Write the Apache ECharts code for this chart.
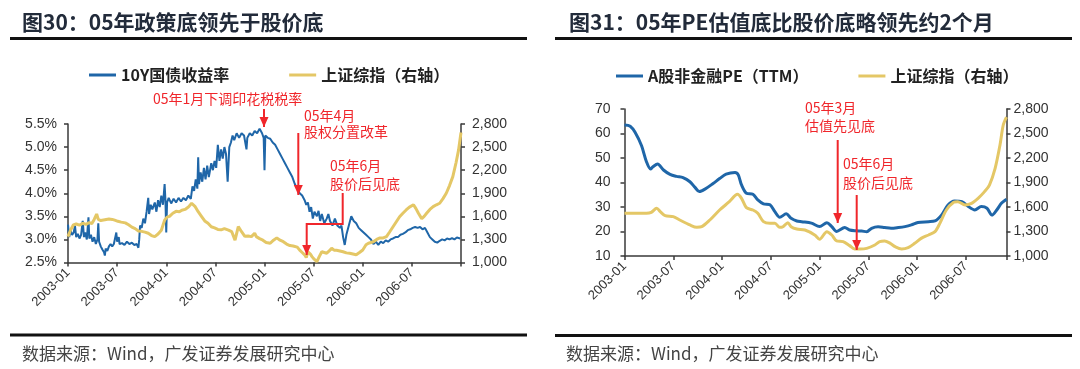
<!DOCTYPE html>
<html><head><meta charset="utf-8">
<script src="https://cdn.jsdelivr.net/npm/echarts@6/dist/echarts.min.js"></script>
<style>html,body{margin:0;padding:0;background:#fff}#c{width:1080px;height:369px}</style>
</head><body><div id="c"></div>
<script>
// x positions are months since 2003-01
const xTickLabels = ['2003-01','2003-07','2004-01','2004-07','2005-01','2005-07','2006-01','2006-07'];

// Left chart: 10Y government bond yield (%)
const bondYield = [[0,3.32],[0.15,3.05],[0.3,3.2],[0.5,3.1],[0.7,3.15],[0.85,3.3],[1.0,3.05],[1.2,3.12],[1.4,3.02],[1.6,3.1],[1.8,3.4],[1.95,3.05],[2.1,3.15],[2.3,3.0],[2.5,3.48],[2.6,3.02],[2.8,3.1],[3.0,2.95],[3.2,3.05],[3.4,2.9],[3.6,3.0],[3.7,3.35],[3.8,2.95],[4.0,2.85],[4.2,2.78],[4.4,2.72],[4.5,2.65],[4.6,2.8],[4.8,2.75],[5.0,2.85],[5.2,2.9],[5.4,2.85],[5.6,2.9],[5.8,2.88],[5.9,3.15],[6.0,2.95],[6.2,3.05],[6.3,2.9],[6.6,2.92],[6.9,2.88],[7.2,2.95],[7.5,2.9],[7.8,2.93],[8.1,2.88],[8.4,2.9],[8.6,2.82],[8.7,3.0],[8.8,3.3],[9.0,3.25],[9.2,3.45],[9.4,3.35],[9.6,3.6],[9.8,3.9],[9.9,3.55],[10.1,3.75],[10.3,3.65],[10.6,3.8],[10.8,3.6],[11.0,3.85],[11.2,3.7],[11.4,3.95],[11.6,3.75],[11.8,4.2],[11.9,3.85],[12.0,3.15],[12.1,3.8],[12.3,3.9],[12.6,3.78],[12.9,3.88],[13.2,3.8],[13.5,3.9],[13.8,3.82],[14.1,3.9],[14.4,3.85],[14.7,3.95],[15.0,3.88],[15.2,4.15],[15.4,4.05],[15.6,4.3],[15.8,4.1],[15.9,4.78],[16.0,4.2],[16.2,4.45],[16.4,4.25],[16.6,4.55],[16.8,4.3],[17.0,4.6],[17.2,4.35],[17.5,4.65],[17.7,4.5],[17.9,4.7],[18.1,4.55],[18.3,5.05],[18.5,4.7],[18.7,4.95],[18.9,4.75],[19.1,5.0],[19.3,4.85],[19.5,4.25],[19.7,5.0],[19.9,5.1],[20.1,5.25],[20.3,5.15],[20.6,5.3],[20.9,5.2],[21.2,5.3],[21.5,5.25],[21.8,4.95],[21.9,5.2],[22.2,5.3],[22.5,5.25],[22.8,5.35],[23.1,5.3],[23.4,5.4],[23.7,5.3],[23.9,5.2],[24.0,4.5],[24.1,5.25],[24.4,5.2],[24.7,5.18],[25.0,5.1],[25.3,5.05],[25.6,4.95],[25.9,4.85],[26.2,4.75],[26.5,4.65],[26.8,4.55],[27.1,4.45],[27.4,4.35],[27.7,4.2],[28.0,4.1],[28.3,4.0],[28.6,3.95],[28.9,3.85],[29.1,3.75],[29.3,3.8],[29.5,3.6],[29.7,3.7],[29.9,3.45],[30.1,3.6],[30.4,3.5],[30.6,3.62],[30.8,3.4],[31.0,3.55],[31.3,3.35],[31.6,3.45],[31.8,3.55],[32.0,3.4],[32.3,3.3],[32.6,3.45],[32.9,3.3],[33.2,3.25],[33.4,3.3],[33.6,3.05],[33.8,2.88],[34.0,3.1],[34.3,3.3],[34.6,3.5],[34.9,3.4],[35.2,3.35],[35.5,3.25],[35.8,3.2],[36.1,3.15],[36.4,3.1],[36.7,3.05],[37.0,3.0],[37.3,2.9],[37.6,2.95],[37.9,2.88],[38.2,2.95],[38.5,2.92],[38.8,2.98],[39.1,2.95],[39.4,3.0],[39.7,3.02],[40.0,3.05],[40.3,3.05],[40.6,3.1],[40.9,3.12],[41.2,3.15],[41.5,3.2],[41.8,3.22],[42.1,3.25],[42.4,3.27],[42.7,3.25],[43.0,3.27],[43.3,3.22],[43.6,3.25],[43.9,3.15],[44.2,3.05],[44.5,3.0],[44.8,2.95],[45.1,2.93],[45.4,2.97],[45.7,3.0],[46.0,2.98],[46.3,3.02],[46.6,3.0],[46.9,3.03],[47.2,3.0],[47.5,3.04],[47.9,3.02]];

// Left chart: Shanghai Composite (right axis)
const sseDaily = [[0,1336],[0.3,1420],[0.65,1487],[1.0,1500],[1.4,1485],[1.8,1510],[2.2,1495],[2.6,1520],[2.9,1505],[3.2,1560],[3.5,1630],[3.7,1560],[4.0,1545],[4.5,1555],[5.0,1565],[5.4,1560],[5.7,1550],[6.1,1535],[6.5,1525],[7.0,1515],[7.4,1490],[7.8,1460],[8.2,1440],[8.6,1410],[9.0,1405],[9.4,1395],[9.8,1380],[10.2,1350],[10.6,1336],[11.0,1370],[11.4,1420],[11.8,1550],[12.1,1590],[12.4,1600],[12.8,1640],[13.2,1665],[13.6,1660],[13.9,1680],[14.3,1690],[14.7,1720],[15.1,1770],[15.5,1730],[15.9,1660],[16.3,1600],[16.7,1540],[17.1,1510],[17.5,1465],[17.9,1450],[18.3,1430],[18.7,1425],[19.1,1440],[19.6,1420],[20.0,1400],[20.4,1290],[20.8,1466],[21.2,1400],[21.6,1340],[22.0,1345],[22.4,1336],[22.8,1380],[23.0,1336],[23.4,1310],[23.8,1290],[24.2,1260],[24.7,1250],[25.1,1290],[25.5,1320],[25.9,1290],[26.3,1270],[26.7,1240],[27.1,1220],[27.5,1215],[28.0,1200],[28.3,1160],[28.6,1130],[28.9,1100],[29.1,1065],[29.3,1140],[29.6,1110],[29.8,1076],[30.0,1050],[30.2,1032],[30.4,1010],[30.7,1080],[31.0,1140],[31.3,1130],[31.6,1120],[31.9,1150],[32.2,1185],[32.5,1160],[32.8,1160],[33.2,1150],[33.6,1140],[34.0,1125],[34.4,1120],[34.8,1110],[35.2,1100],[35.6,1130],[36.0,1163],[36.4,1230],[36.7,1250],[37.0,1260],[37.3,1270],[37.7,1300],[38.1,1320],[38.5,1320],[38.9,1336],[39.3,1400],[39.7,1465],[40.1,1530],[40.5,1595],[40.9,1640],[41.3,1683],[41.7,1720],[42.2,1750],[42.5,1700],[42.8,1640],[43.2,1570],[43.5,1600],[43.8,1640],[44.2,1690],[44.6,1726],[45.0,1750],[45.4,1770],[45.8,1830],[46.2,1900],[46.6,2000],[47.0,2116],[47.4,2300],[47.7,2460],[48.0,2690]];

// Right chart: A-share non-financial PE (TTM)
const peTTM = [[0,63.5],[0.7,63],[1.3,60.5],[2.1,55],[2.7,48.5],[3.2,45.5],[3.5,46.4],[4.07,47.6],[4.8,45.1],[5.6,43.3],[6.4,42.5],[7.2,42],[8.05,40.3],[8.7,37.9],[9.2,36.3],[9.9,37.3],[10.9,39.6],[11.7,41.6],[12.5,43.4],[13.6,44.1],[14.0,43.1],[14.4,39],[15.0,35.6],[15.8,35.2],[16.4,32.9],[17.1,31.3],[17.9,30.9],[18.5,28.1],[19.1,25.8],[19.9,27.2],[20.5,25.4],[21.2,24.3],[21.8,24.0],[23.0,23.4],[24.0,22.0],[24.9,23.6],[25.5,22.0],[26.1,20.0],[27.1,21.6],[27.7,20.6],[28.5,20.3],[29.2,20.2],[29.8,19.9],[30.4,21.3],[31.2,21.9],[32.0,21.6],[32.8,21.3],[33.7,21.6],[34.5,22.0],[35.3,22.7],[36.1,23.7],[37.4,24.0],[38.2,24.3],[39.0,26.7],[39.8,30.8],[40.6,32.5],[41.5,32.2],[42.3,30.2],[43.1,28.8],[43.9,30.2],[44.6,29.5],[45.2,26.7],[45.8,28.8],[46.4,31.6],[47.0,33.2]];

// Right chart: Shanghai Composite (right axis)
const sseMonthly = [[0,1523],[1.5,1523],[2.7,1523],[3.3,1535],[3.96,1584],[4.4,1543],[5.0,1494],[6.0,1482],[6.8,1441],[8.05,1380],[8.9,1351],[9.5,1359],[10.5,1441],[11.7,1563],[12.9,1665],[13.9,1755],[14.4,1706],[15.0,1592],[15.8,1563],[16.4,1523],[17.1,1420],[17.9,1400],[18.5,1400],[19.1,1351],[19.5,1359],[20.1,1408],[20.5,1359],[21.2,1331],[22.2,1318],[23.4,1257],[24.0,1204],[24.9,1298],[25.5,1257],[26.1,1184],[26.9,1176],[27.7,1127],[28.3,1086],[29.0,1086],[29.8,1094],[30.8,1135],[31.4,1176],[32.0,1184],[32.7,1155],[33.3,1114],[34.1,1086],[34.9,1102],[35.7,1155],[36.5,1216],[37.4,1257],[38.2,1298],[38.8,1400],[39.6,1563],[40.5,1657],[41.0,1665],[41.9,1625],[42.7,1645],[43.5,1706],[44.3,1788],[44.9,1869],[45.6,2073],[46.2,2359],[46.6,2604],[47.0,2700]];

const FONT = "'Liberation Sans', Arial, sans-serif";
const CJK = "'Noto Sans CJK SC', sans-serif";
const BLUE = '#1f66a8', GOLD = '#e4c766', RED = '#f0262b', AXIS = '#3a3a3a';

function xAxis(gridIndex, max) {
  return { type:'value', gridIndex, min:0, max, interval:6,
    axisLine:{show:true, onZero:false, lineStyle:{color:AXIS, width:1.5}},
    axisTick:{show:true, length:4, lineStyle:{color:AXIS, width:1.5}},
    splitLine:{show:false},
    axisLabel:{rotate:45, margin:8, fontSize:13, color:'#333', fontFamily:FONT,
      formatter: v => (v % 6 === 0 && v / 6 < xTickLabels.length) ? xTickLabels[v / 6] : ''}
  };
}
function yAxis(gridIndex, position, min, max, interval, fmt, margin) {
  return { type:'value', gridIndex, position, min, max, interval,
    axisLine:{show:true, onZero:false, lineStyle:{color:AXIS, width:1.5}},
    axisTick:{show:true, length:4, lineStyle:{color:AXIS, width:1.5}},
    splitLine:{show:false},
    axisLabel:{margin, fontSize:14, color:'#333', fontFamily:FONT, formatter: fmt}};
}
const pct = v => v.toFixed(1) + '%';
const thou = v => v.toLocaleString('en-US');

function arrow(points, color) {
  const tip = points[points.length - 1];
  const els = [{type:'polyline', shape:{points}, style:{stroke:color, lineWidth:2, fill:null}, z:100},
    {type:'polygon', shape:{points:[[tip[0]-4.5, tip[1]-10],[tip[0]+4.5, tip[1]-10],[tip[0], tip[1]]]}, style:{fill:color}, z:100}];
  return els;
}
function txt(text, x, y, size, color, weight) {
  return {type:'text', z:100, style:{text, x, y, fill:color, fontSize:size, fontFamily:CJK, fontWeight:weight || 'normal', verticalAlign:'middle', align:'left'}};
}
function rule(x1, x2, y) {
  return {type:'line', shape:{x1, y1:y, x2, y2:y}, style:{stroke:'#111', lineWidth:3}};
}

const graphics = [
  txt('图30：05年政策底领先于股价底', 22, 22, 21, '#222b3a', 'bold'),
  txt('图31：05年PE估值底比股价底略领先约2个月', 569, 22, 21, '#222b3a', 'bold'),
  rule(10, 527, 38.5), rule(555, 1072, 38.5),
  rule(10, 527, 335), rule(555, 1072, 335.5),
  txt('数据来源：Wind，广发证券发展研究中心', 22, 353.5, 17, '#444'),
  txt('数据来源：Wind，广发证券发展研究中心', 566, 353.5, 17, '#444'),
  txt('05年1月下调印花税税率', 153, 99, 14, RED),
  txt('05年4月', 304, 116, 14, RED),
  txt('股权分置改革', 304, 132, 14, RED),
  txt('05年6月', 330, 166, 14, RED),
  txt('股价后见底', 330, 184, 14, RED),
  ...arrow([[264, 109], [264, 127]], RED),
  ...arrow([[298.3, 133], [298.3, 195]], RED),
  ...arrow([[342.7, 193], [342.7, 224], [306.7, 224], [306.7, 255]], RED),
  txt('05年3月', 805, 107.5, 14, RED),
  txt('估值先见底', 805, 126, 14, RED),
  txt('05年6月', 843, 164, 14, RED),
  txt('股价后见底', 843, 182.5, 14, RED),
  ...arrow([[837.7, 140], [837.7, 223]], RED),
  ...arrow([[856.7, 195], [856.7, 250]], RED)
];

const legendText = {fontSize:16, fontWeight:'bold', color:'#222', fontFamily:CJK};
const option = {
  animation:false,
  backgroundColor:'#fff',
  grid:[
    {left:68, right:619, top:124, bottom:106.5},
    {left:624.5, right:73.5, top:109, bottom:113}
  ],
  legend:[
    {data:['10Y国债收益率','上证综指（右轴）'], left:84, top:62, itemGap:60, itemWidth:27, itemHeight:3, icon:'rect', textStyle:legendText},
    {data:['A股非金融PE（TTM）','上证综指（右轴）'], left:611, top:63, itemGap:50, itemWidth:27, itemHeight:3, icon:'rect', textStyle:legendText}
  ],
  xAxis:[xAxis(0, 48), xAxis(1, 47)],
  yAxis:[
    yAxis(0, 'left', 2.5, 5.5, 0.5, pct, 11),
    yAxis(0, 'right', 1000, 2800, 300, thou, 11),
    yAxis(1, 'left', 10, 70, 10, v => String(v), 14),
    yAxis(1, 'right', 1000, 2800, 300, thou, 7)
  ],
  series:[
    {type:'line', name:'10Y国债收益率', xAxisIndex:0, yAxisIndex:0, data:bondYield, showSymbol:false, lineStyle:{color:BLUE, width:2}, itemStyle:{color:BLUE}},
    {type:'line', name:'上证综指（右轴）', xAxisIndex:0, yAxisIndex:1, data:sseDaily, showSymbol:false, lineStyle:{color:GOLD, width:3}, itemStyle:{color:GOLD}},
    {type:'line', name:'A股非金融PE（TTM）', xAxisIndex:1, yAxisIndex:2, data:peTTM, smooth:0.3, showSymbol:false, lineStyle:{color:BLUE, width:3}, itemStyle:{color:BLUE}},
    {type:'line', name:'上证综指（右轴）', xAxisIndex:1, yAxisIndex:3, data:sseMonthly, smooth:0.3, showSymbol:false, lineStyle:{color:GOLD, width:3}, itemStyle:{color:GOLD}}
  ],
  graphic:graphics
};
const chart = echarts.init(document.getElementById('c'));
chart.setOption(option);
</script>
</body></html>
